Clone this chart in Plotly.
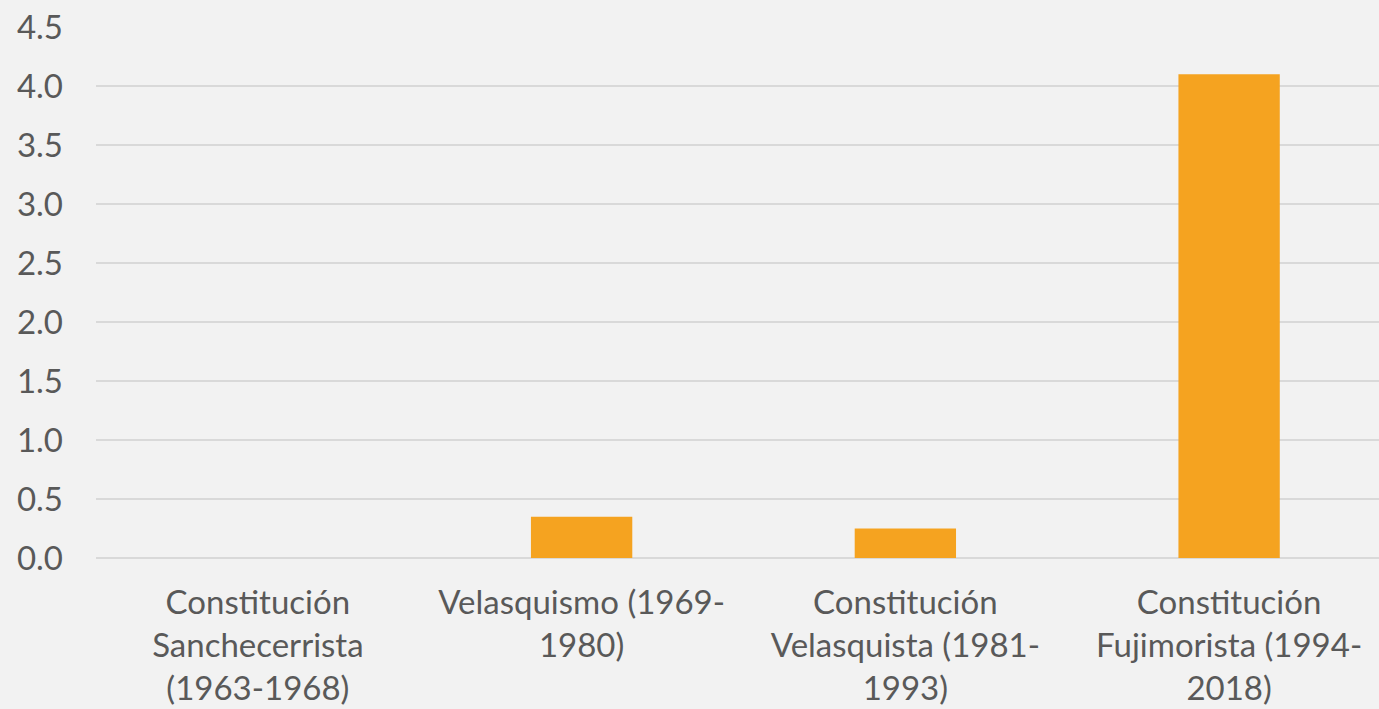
import plotly.graph_objects as go

# Periods and their values
categories = [
    "Constitución<br>Sanchecerrista<br>(1963-1968)",
    "Velasquismo (1969-<br>1980)",
    "Constitución<br>Velasquista (1981-<br>1993)",
    "Constitución<br>Fujimorista (1994-<br>2018)",
]
values = [0.0, 0.35, 0.25, 4.1]
y_ticks = [0.0, 0.5, 1.0, 1.5, 2.0, 2.5, 3.0, 3.5, 4.0, 4.5]
y_tick_labels = [f"{v:.1f}" for v in y_ticks]

BG = "#F2F2F2"
GRID = "#D9D9D9"
TEXT = "#595959"
FONT = "Lato"

fig = go.Figure(
    go.Bar(
        x=categories,
        y=values,
        marker=dict(color="#F5A320", line=dict(width=0)),
        hoverinfo="x+y",
    )
)

fig.update_layout(
    width=1379,
    height=709,
    paper_bgcolor=BG,
    plot_bgcolor=BG,
    margin=dict(l=96, r=0, t=27, b=151),
    bargap=0.687,
    showlegend=False,
    font=dict(family=FONT, size=33, color=TEXT),
)

fig.update_xaxes(
    type="category",
    range=[-0.5, 3.463],
    showgrid=False,
    showline=False,
    zeroline=False,
    ticks="",
    ticklabelstandoff=22,
    tickfont=dict(family=FONT, size=33, color=TEXT),
)

fig.update_yaxes(
    range=[0, 4.5],
    tickvals=y_ticks,
    ticktext=y_tick_labels,
    showgrid=True,
    gridcolor=GRID,
    gridwidth=2,
    zeroline=True,
    zerolinecolor=GRID,
    zerolinewidth=2,
    showline=False,
    ticks="",
    ticklabelstandoff=32,
    tickfont=dict(family=FONT, size=33, color=TEXT),
)

fig.write_html("out.html")
